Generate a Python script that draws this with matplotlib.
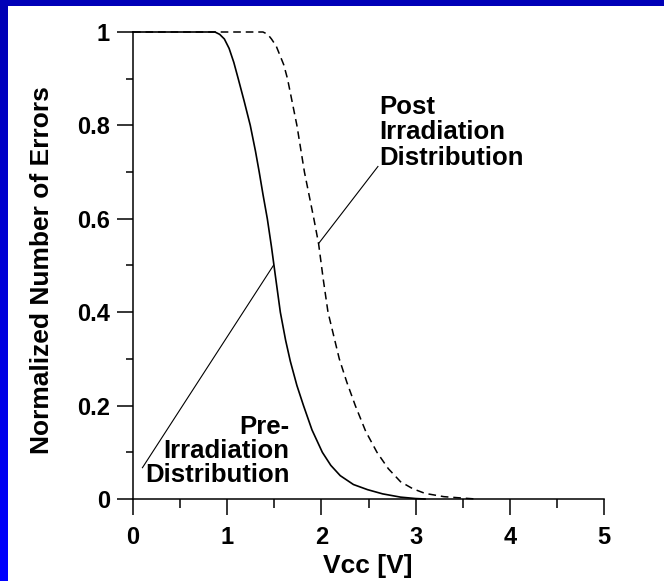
import numpy as np
import matplotlib.pyplot as plt
from matplotlib.colors import LinearSegmentedColormap

plt.rcParams['font.family'] = ['Liberation Sans', 'DejaVu Sans']

# error distributions
pre_vcc = [0, 0.87, 0.92, 0.97, 1.02, 1.07, 1.117, 1.18, 1.245, 1.30, 1.34,
           1.38, 1.426, 1.47, 1.51, 1.564, 1.62, 1.67, 1.74, 1.81, 1.90,
           2.01, 2.10, 2.2, 2.34, 2.49, 2.65, 2.84, 3.0, 3.1]
pre_err = [1, 1, 0.995, 0.985, 0.965, 0.935, 0.9, 0.852, 0.8, 0.745, 0.7,
           0.652, 0.6, 0.54, 0.48, 0.4, 0.34, 0.295, 0.243, 0.2, 0.148,
           0.1, 0.072, 0.05, 0.031, 0.02, 0.011, 0.004, 0.001, 0]

post_vcc = [0, 1.38, 1.43, 1.47, 1.52, 1.56, 1.60, 1.64, 1.69, 1.74, 1.78,
            1.82, 1.87, 1.92, 1.97, 2.02, 2.07, 2.13, 2.19, 2.27, 2.36,
            2.47, 2.59, 2.71, 2.84, 2.97, 3.1, 3.3, 3.5, 3.64]
post_err = [1, 1, 0.995, 0.985, 0.97, 0.95, 0.93, 0.9, 0.85, 0.8, 0.75,
            0.7, 0.65, 0.6, 0.547, 0.47, 0.4, 0.35, 0.3, 0.25, 0.2,
            0.145, 0.1, 0.065, 0.037, 0.022, 0.012, 0.005, 0.002, 0]

x_ticks = [0, 1, 2, 3, 4, 5]
y_ticks = [0, 0.2, 0.4, 0.6, 0.8, 1]
y_tick_labels = ["0", "0.2", "0.4", "0.6", "0.8", "1"]

W, H = 664, 581
fig = plt.figure(figsize=(W / 100, H / 100), dpi=100)
fig.patch.set_facecolor("white")

# blue frame on the left and top
strip = fig.add_axes([0, 0, 8 / W, 1])
blues = LinearSegmentedColormap.from_list("b", ["#0000b4", "#0000ff"])
strip.imshow(np.linspace(0, 1, 256).reshape(-1, 1), cmap=blues, aspect="auto")
strip.axis("off")
top = fig.add_axes([0, 1 - 6 / H, 1, 6 / H])
top.set_facecolor("#0000b8")
top.set_xticks([])
top.set_yticks([])
for s in top.spines.values():
    s.set_visible(False)

ax = fig.add_axes([133 / W, (H - 499) / H, (604 - 133) / W, (499 - 32) / H])
ax.plot(post_vcc, post_err, color="black", lw=1.1, dashes=(5, 3.2), clip_on=False)
ax.plot(pre_vcc, pre_err, color="black", lw=1.2, clip_on=False)

# pointer lines to the labels
ax.plot([0.10, 1.49], [0.067, 0.50], color="black", lw=0.8)
ax.plot([1.97, 2.60], [0.547, 0.712], color="black", lw=0.8)

ax.text(1.66, 0.025, "Pre-\nIrradiation\nDistribution", ha="right", va="bottom",
        fontsize=18.5, fontweight="bold", linespacing=1.02)
ax.text(2.61, 0.705, "Post\nIrradiation\nDistribution", ha="left", va="bottom",
        fontsize=18.5, fontweight="bold", linespacing=1.07)

ax.set_xlim(0, 5)
ax.set_ylim(0, 1)
ax.set_xticks(x_ticks)
ax.set_xticks(np.arange(0.5, 5, 1), minor=True)
ax.set_yticks(y_ticks)
ax.set_yticklabels(y_tick_labels)
ax.set_yticks(np.arange(0.1, 1, 0.2), minor=True)

for side in ["top", "right"]:
    ax.spines[side].set_visible(False)
for side in ["left", "bottom"]:
    ax.spines[side].set_linewidth(1.1)

ax.tick_params(which="major", length=11.5, width=1.1, labelsize=17, pad=5)
ax.tick_params(axis="x", which="major", pad=8)
ax.tick_params(axis="x", which="minor", length=6.5, width=1.1)
ax.tick_params(axis="y", which="minor", length=5, width=1.1)
for lab in ax.get_xticklabels() + ax.get_yticklabels():
    lab.set_fontweight("bold")

fig.text(42 / W, 1 - 270 / H, "Normalized Number of Errors", rotation=90,
         ha="center", va="center", fontsize=19, fontweight="bold")
fig.text(368 / W, 1 - 566 / H, "Vcc [V]", ha="center", va="center",
         fontsize=19, fontweight="bold")

fig.savefig("out.png", dpi=100)
